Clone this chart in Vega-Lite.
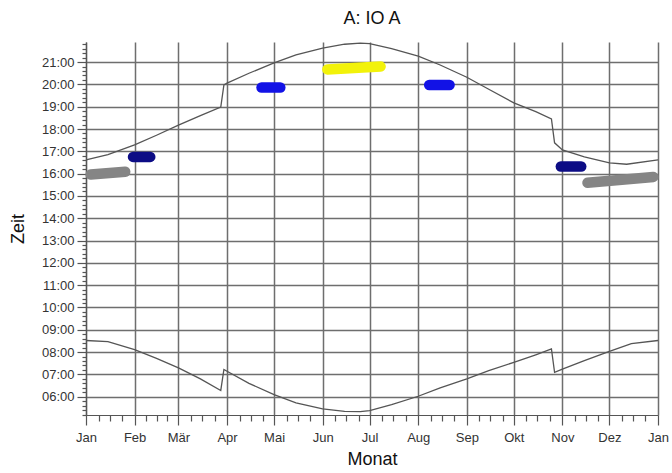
{
  "$schema": "https://vega.github.io/schema/vega-lite/v6.json",
  "width": 572,
  "height": 373,
  "autosize": "none",
  "padding": {"left": 86, "top": 42, "right": 14, "bottom": 58},
  "background": "white",
  "title": {"text": "A: IO A", "fontSize": 18, "font": "Liberation Sans", "fontWeight": "normal", "color": "#111111", "offset": 13, "anchor": "middle"},
  "config": {
    "view": {"stroke": null},
    "axis": {"labelFont": "Liberation Sans", "titleFont": "Liberation Sans", "labelColor": "#333333", "titleColor": "#111111", "titleFontWeight": "normal", "domainColor": "#555555", "tickColor": "#555555", "gridColor": "#6e6e6e", "gridWidth": 1.5, "gridOpacity": 1, "domainWidth": 1.2, "tickWidth": 1.2}
  },
  "datasets": {
    "curves": [
      {"series": "sunset", "date": "2023-01-01", "time": 16.62},
      {"series": "sunset", "date": "2023-01-15", "time": 16.85},
      {"series": "sunset", "date": "2023-02-01", "time": 17.29},
      {"series": "sunset", "date": "2023-02-15", "time": 17.72},
      {"series": "sunset", "date": "2023-03-01", "time": 18.17},
      {"series": "sunset", "date": "2023-03-15", "time": 18.6},
      {"series": "sunset", "date": "2023-03-28", "time": 18.98},
      {"series": "sunset", "date": "2023-03-30", "time": 19.98},
      {"series": "sunset", "date": "2023-04-01", "time": 20.06},
      {"series": "sunset", "date": "2023-04-15", "time": 20.5},
      {"series": "sunset", "date": "2023-05-01", "time": 20.96},
      {"series": "sunset", "date": "2023-05-15", "time": 21.32},
      {"series": "sunset", "date": "2023-06-01", "time": 21.63},
      {"series": "sunset", "date": "2023-06-15", "time": 21.8},
      {"series": "sunset", "date": "2023-06-25", "time": 21.85},
      {"series": "sunset", "date": "2023-07-01", "time": 21.83},
      {"series": "sunset", "date": "2023-07-15", "time": 21.6},
      {"series": "sunset", "date": "2023-08-01", "time": 21.27},
      {"series": "sunset", "date": "2023-08-15", "time": 20.87},
      {"series": "sunset", "date": "2023-09-01", "time": 20.32},
      {"series": "sunset", "date": "2023-09-15", "time": 19.78},
      {"series": "sunset", "date": "2023-10-01", "time": 19.17},
      {"series": "sunset", "date": "2023-10-15", "time": 18.78},
      {"series": "sunset", "date": "2023-10-25", "time": 18.45},
      {"series": "sunset", "date": "2023-10-27", "time": 17.38},
      {"series": "sunset", "date": "2023-11-01", "time": 17.06},
      {"series": "sunset", "date": "2023-11-15", "time": 16.75},
      {"series": "sunset", "date": "2023-12-01", "time": 16.48},
      {"series": "sunset", "date": "2023-12-12", "time": 16.42},
      {"series": "sunset", "date": "2024-01-01", "time": 16.62},
      {"series": "sunrise", "date": "2023-01-01", "time": 8.52},
      {"series": "sunrise", "date": "2023-01-15", "time": 8.47},
      {"series": "sunrise", "date": "2023-02-01", "time": 8.11},
      {"series": "sunrise", "date": "2023-02-15", "time": 7.72},
      {"series": "sunrise", "date": "2023-03-01", "time": 7.29},
      {"series": "sunrise", "date": "2023-03-15", "time": 6.8},
      {"series": "sunrise", "date": "2023-03-28", "time": 6.28},
      {"series": "sunrise", "date": "2023-03-30", "time": 7.22},
      {"series": "sunrise", "date": "2023-04-01", "time": 7.14},
      {"series": "sunrise", "date": "2023-04-15", "time": 6.6},
      {"series": "sunrise", "date": "2023-05-01", "time": 6.09},
      {"series": "sunrise", "date": "2023-05-15", "time": 5.72},
      {"series": "sunrise", "date": "2023-06-01", "time": 5.45},
      {"series": "sunrise", "date": "2023-06-15", "time": 5.34},
      {"series": "sunrise", "date": "2023-06-25", "time": 5.33},
      {"series": "sunrise", "date": "2023-07-01", "time": 5.38},
      {"series": "sunrise", "date": "2023-07-15", "time": 5.64},
      {"series": "sunrise", "date": "2023-08-01", "time": 6.02},
      {"series": "sunrise", "date": "2023-08-15", "time": 6.4},
      {"series": "sunrise", "date": "2023-09-01", "time": 6.8},
      {"series": "sunrise", "date": "2023-09-15", "time": 7.17},
      {"series": "sunrise", "date": "2023-10-01", "time": 7.54},
      {"series": "sunrise", "date": "2023-10-15", "time": 7.88},
      {"series": "sunrise", "date": "2023-10-25", "time": 8.14},
      {"series": "sunrise", "date": "2023-10-27", "time": 7.09},
      {"series": "sunrise", "date": "2023-11-01", "time": 7.24},
      {"series": "sunrise", "date": "2023-11-15", "time": 7.62},
      {"series": "sunrise", "date": "2023-12-01", "time": 8.03},
      {"series": "sunrise", "date": "2023-12-15", "time": 8.38},
      {"series": "sunrise", "date": "2024-01-01", "time": 8.52}
    ],
    "blobs": [
      {"blob": "g1", "date": "2023-01-04", "time": 15.96},
      {"blob": "g1", "date": "2023-01-26", "time": 16.08},
      {"blob": "n1", "date": "2023-01-31", "time": 16.75},
      {"blob": "n1", "date": "2023-02-11", "time": 16.75},
      {"blob": "b1", "date": "2023-04-23", "time": 19.86},
      {"blob": "b1", "date": "2023-05-05", "time": 19.86},
      {"blob": "y1", "date": "2023-06-04", "time": 20.67},
      {"blob": "y1", "date": "2023-07-08", "time": 20.8},
      {"blob": "b2", "date": "2023-08-08", "time": 19.97},
      {"blob": "b2", "date": "2023-08-21", "time": 19.97},
      {"blob": "n2", "date": "2023-10-31", "time": 16.32},
      {"blob": "n2", "date": "2023-11-13", "time": 16.32},
      {"blob": "g2", "date": "2023-11-17", "time": 15.59},
      {"blob": "g2", "date": "2023-12-29", "time": 15.85}
    ]
  },
  "layer": [
    {
      "data": {"name": "blobs"},
      "mark": {"type": "line", "strokeWidth": 10.5, "strokeCap": "round", "strokeJoin": "round"},
      "encoding": {
        "x": {"field": "date", "type": "temporal",
          "scale": {"type": "utc", "domain": [{"year": 2023, "month": 1, "date": 1, "utc": true}, {"year": 2024, "month": 1, "date": 1, "utc": true}]},
          "axis": {"orient": "bottom", "title": null, "labels": false, "grid": false, "domain": false, "tickSize": 6,
            "values": [
              {"year": 2023, "month": 1, "date": 9, "utc": true}, {"year": 2023, "month": 1, "date": 16, "utc": true}, {"year": 2023, "month": 1, "date": 24, "utc": true},
              {"year": 2023, "month": 2, "date": 8, "utc": true}, {"year": 2023, "month": 2, "date": 15, "utc": true}, {"year": 2023, "month": 2, "date": 22, "utc": true},
              {"year": 2023, "month": 3, "date": 9, "utc": true}, {"year": 2023, "month": 3, "date": 16, "utc": true}, {"year": 2023, "month": 3, "date": 24, "utc": true},
              {"year": 2023, "month": 4, "date": 9, "utc": true}, {"year": 2023, "month": 4, "date": 16, "utc": true}, {"year": 2023, "month": 4, "date": 24, "utc": true},
              {"year": 2023, "month": 5, "date": 9, "utc": true}, {"year": 2023, "month": 5, "date": 16, "utc": true}, {"year": 2023, "month": 5, "date": 24, "utc": true},
              {"year": 2023, "month": 6, "date": 9, "utc": true}, {"year": 2023, "month": 6, "date": 16, "utc": true}, {"year": 2023, "month": 6, "date": 24, "utc": true},
              {"year": 2023, "month": 7, "date": 9, "utc": true}, {"year": 2023, "month": 7, "date": 16, "utc": true}, {"year": 2023, "month": 7, "date": 24, "utc": true},
              {"year": 2023, "month": 8, "date": 9, "utc": true}, {"year": 2023, "month": 8, "date": 16, "utc": true}, {"year": 2023, "month": 8, "date": 24, "utc": true},
              {"year": 2023, "month": 9, "date": 9, "utc": true}, {"year": 2023, "month": 9, "date": 16, "utc": true}, {"year": 2023, "month": 9, "date": 24, "utc": true},
              {"year": 2023, "month": 10, "date": 9, "utc": true}, {"year": 2023, "month": 10, "date": 16, "utc": true}, {"year": 2023, "month": 10, "date": 24, "utc": true},
              {"year": 2023, "month": 11, "date": 9, "utc": true}, {"year": 2023, "month": 11, "date": 16, "utc": true}, {"year": 2023, "month": 11, "date": 24, "utc": true},
              {"year": 2023, "month": 12, "date": 9, "utc": true}, {"year": 2023, "month": 12, "date": 16, "utc": true}, {"year": 2023, "month": 12, "date": 24, "utc": true}
            ]}},
        "y": {"field": "time", "type": "quantitative",
          "scale": {"domain": [5.18, 21.9], "nice": false, "zero": false},
          "axis": {"orient": "left", "title": null, "labels": false, "grid": false, "domain": false, "tickSize": 4,
            "values": [5.2,5.4,5.6,5.8,6.2,6.4,6.6,6.8,7.2,7.4,7.6,7.8,8.2,8.4,8.6,8.8,9.2,9.4,9.6,9.8,10.2,10.4,10.6,10.8,11.2,11.4,11.6,11.8,12.2,12.4,12.6,12.8,13.2,13.4,13.6,13.8,14.2,14.4,14.6,14.8,15.2,15.4,15.6,15.8,16.2,16.4,16.6,16.8,17.2,17.4,17.6,17.8,18.2,18.4,18.6,18.8,19.2,19.4,19.6,19.8,20.2,20.4,20.6,20.8,21.2,21.4,21.6,21.8]}},
        "color": {"field": "blob", "type": "nominal",
          "scale": {"domain": ["g1", "n1", "b1", "y1", "b2", "n2", "g2"], "range": ["#858585", "#0c0c85", "#1212e6", "#f2f20a", "#1212e6", "#0c0c85", "#858585"]},
          "legend": null}
      }
    },
    {
      "data": {"name": "curves"},
      "mark": {"type": "line", "color": "#555555", "strokeWidth": 1.3},
      "encoding": {
        "x": {"field": "date", "type": "temporal",
          "axis": {"orient": "bottom", "grid": true, "title": "Monat", "titleFontSize": 18, "titlePadding": 6, "labelFontSize": 13, "tickSize": 10, "labelPadding": 6,
            "labelFlush": false, "labelOverlap": false, "labelBound": false,
            "labelExpr": "['Jan','Feb','Mär','Apr','Mai','Jun','Jul','Aug','Sep','Okt','Nov','Dez'][utcmonth(datum.value)]",
            "values": [
              {"year": 2023, "month": 1, "date": 1, "utc": true}, {"year": 2023, "month": 2, "date": 1, "utc": true}, {"year": 2023, "month": 3, "date": 1, "utc": true},
              {"year": 2023, "month": 4, "date": 1, "utc": true}, {"year": 2023, "month": 5, "date": 1, "utc": true}, {"year": 2023, "month": 6, "date": 1, "utc": true},
              {"year": 2023, "month": 7, "date": 1, "utc": true}, {"year": 2023, "month": 8, "date": 1, "utc": true}, {"year": 2023, "month": 9, "date": 1, "utc": true},
              {"year": 2023, "month": 10, "date": 1, "utc": true}, {"year": 2023, "month": 11, "date": 1, "utc": true}, {"year": 2023, "month": 12, "date": 1, "utc": true},
              {"year": 2024, "month": 1, "date": 1, "utc": true}
            ]}},
        "y": {"field": "time", "type": "quantitative",
          "axis": {"orient": "left", "grid": true, "title": "Zeit", "titleFontSize": 18, "titlePadding": 14, "labelFontSize": 13, "tickSize": 9, "labelPadding": 3,
            "values": [6,7,8,9,10,11,12,13,14,15,16,17,18,19,20,21],
            "labelExpr": "(datum.value < 10 ? '0' : '') + datum.value + ':00'"}},
        "detail": {"field": "series", "type": "nominal"}
      }
    }
  ],
  "resolve": {"axis": {"x": "independent", "y": "independent"}}
}
